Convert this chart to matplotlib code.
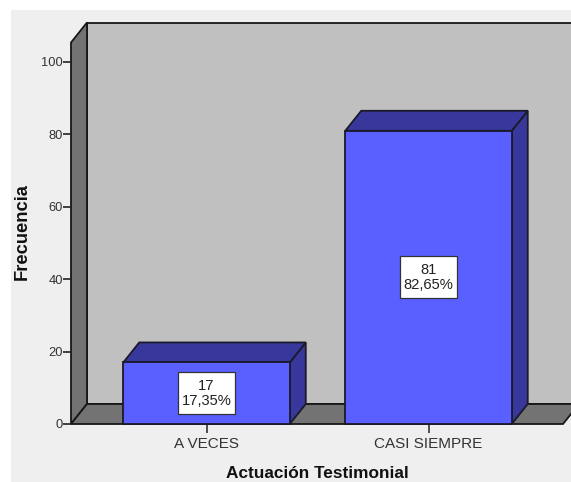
import matplotlib
matplotlib.use("Agg")
import matplotlib.pyplot as plt
from matplotlib.patches import Polygon, Rectangle

categories = ["A VECES", "CASI SIEMPRE"]
counts = [17, 81]
percents = ["17,35%", "82,65%"]
yticks = [0, 20, 40, 60, 80, 100]

W, H = 571, 482
plt.rcParams['font.family'] = ['Liberation Sans', 'DejaVu Sans']
fig = plt.figure(figsize=(W/100, H/100), dpi=100, facecolor='white')
fig.add_artist(Rectangle((11/W, 0), 1, 1-10/H, transform=fig.transFigure,
                         facecolor='#EFEFEF', edgecolor='none', zorder=-5))

left_px, right_px, zero_px, top_px = 71, 563, 424, 42.5
ax = fig.add_axes([left_px/W, 1-zero_px/H, (right_px-left_px)/W, (zero_px-top_px)/H])
ax.patch.set_visible(False)
step = 222.0
x0 = (left_px-206.5)/step
x1 = (right_px-206.5)/step
ymax = (zero_px-top_px)/3.62
ax.set_xlim(x0, x1)
ax.set_ylim(0, ymax)
dx, dy = 16/step, 20/3.62
EDGE = '#1A1A2A'
WALL = '#171717'

def poly(pts, fc, ec=WALL, z=1, lw=1.3):
    ax.add_patch(Polygon(pts, closed=True, facecolor=fc, edgecolor=ec,
                         linewidth=lw, clip_on=False, zorder=z, joinstyle='miter'))

# back wall, side wall, floor
poly([(x0+dx, dy), (x1+dx+0.2, dy), (x1+dx+0.2, ymax+dy), (x0+dx, ymax+dy)], '#C0C0C0')
poly([(x0, 0), (x0+dx, dy), (x0+dx, ymax+dy), (x0, ymax)], '#737373')
poly([(x0, 0), (x1, 0), (x1+dx, dy), (x0+dx, dy)], '#737373')

# bars
bw = 0.75
box_w, box_h = 57/step, 42/3.62
for i, (c, p) in enumerate(zip(counts, percents)):
    l, r = i-bw/2, i+bw/2
    poly([(r, 0), (r+dx, dy), (r+dx, c+dy), (r, c)], '#38389C', EDGE, 3)
    poly([(l, c), (r, c), (r+dx, c+dy), (l+dx, c+dy)], '#38389C', EDGE, 3)
    ax.add_patch(Rectangle((l, 0), bw, c, facecolor='#5A5FFF', edgecolor=EDGE,
                           linewidth=1.3, clip_on=False, zorder=4))
    ax.add_patch(Rectangle((i-box_w/2, c/2-box_h/2), box_w, box_h, facecolor='white',
                           edgecolor='#333333', linewidth=0.9, clip_on=False, zorder=5))
    ax.text(i, c/2, f"{c}\n{p}", ha='center', va='center', fontsize=10.6,
            linespacing=1.05, color='#222222', zorder=6)

for s in ax.spines.values():
    s.set_visible(False)
ax.set_xticks(range(len(categories)))
ax.set_xticklabels(categories)
ax.set_yticks(yticks)
ax.tick_params(axis='y', length=5.8, width=1.2, color='#222222', pad=0, labelsize=9.3, labelcolor='#333333')
ax.tick_params(axis='x', length=6.8, width=1.2, color='#333333', pad=2.5, labelsize=11, labelcolor='#333333')

fig.text(317/W, 1-473.5/H, "Actuación Testimonial", ha='center', va='center',
         fontsize=12.4, fontweight='bold', color='#111111')
fig.text(22.5/W, 1-232/H, "Frecuencia", ha='center', va='center', rotation=90,
         fontsize=13.2, fontweight='bold', color='#111111')
fig.savefig("out.png", dpi=100)
